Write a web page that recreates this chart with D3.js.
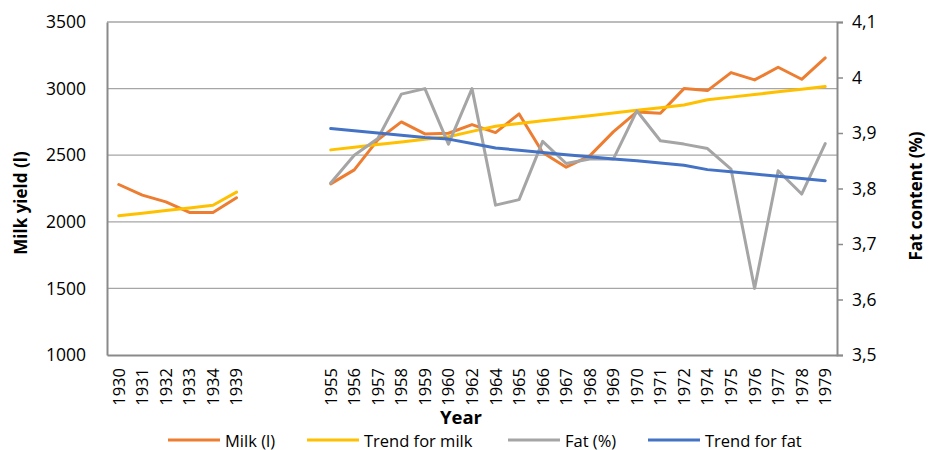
<!DOCTYPE html>
<html>
<head>
<meta charset="utf-8">
<script src="https://cdn.jsdelivr.net/npm/d3@7"></script>
<style>
  html, body { margin: 0; padding: 0; background: #fff; }
  svg { display: block; font-family: "Open Sans", "Liberation Sans", sans-serif; }
</style>
</head>
<body>
<svg id="chart" width="929" height="450"></svg>
<script>
// ---- data ----
const categories = ["1930","1931","1932","1933","1934","1939"," ","  ","   ",
  "1955","1956","1957","1958","1959","1960","1962","1964","1965","1966","1967","1968",
  "1969","1970","1971","1972","1974","1975","1976","1977","1978","1979"];
const milk = [2280,2200,2150,2070,2070,2180,null,null,null,
  2285,2390,2615,2750,2660,2665,2730,2670,2810,2520,2410,2495,
  2675,2825,2815,3000,2985,3120,3065,3160,3070,3230];
const milkTrend = [2045,2065,2085,2104,2124,2223,null,null,null,
  2540,2560,2580,2599,2619,2639,2679,2718,2738,2758,2778,2797,
  2817,2837,2857,2877,2916,2936,2956,2976,2995,3015];
const fat = [null,null,null,null,null,null,null,null,null,
  3.81,3.86,3.89,3.97,3.98,3.88,3.98,3.77,3.78,3.885,3.845,3.853,
  3.853,3.94,3.886,3.88,3.872,3.835,3.62,3.832,3.79,3.881];
const fatTrend = [null,null,null,null,null,null,null,null,null,
  3.908,3.904,3.900,3.896,3.892,3.889,3.881,3.873,3.869,3.865,3.861,3.857,
  3.853,3.850,3.846,3.842,3.834,3.830,3.826,3.822,3.818,3.814];
const leftTicks = [1000,1500,2000,2500,3000,3500];
const rightTicks = [3.5,3.6,3.7,3.8,3.9,4.0,4.1];
const seriesNames = ["Milk (l)","Trend for milk","Fat (%)","Trend for fat"];
const colors = ["#ED7D31","#FFC000","#A5A5A5","#4472C4"];

// ---- layout ----
const L = 107, R = 837, T = 22, B = 355;
const svg = d3.select("#chart");

const x = d3.scaleBand().domain(categories).range([L, R]).padding(0);
const cx = c => x(c) + x.bandwidth() / 2;
const yL = d3.scaleLinear().domain([1000, 3500]).range([B, T]);
const yR = d3.scaleLinear().domain([3.5, 4.1]).range([B, T]);

// gridlines
svg.append("g").selectAll("line").data(leftTicks.filter(d => d > 1000)).join("line")
  .attr("x1", L).attr("x2", R)
  .attr("y1", d => yL(d)).attr("y2", d => yL(d))
  .attr("stroke", "#a6a6a6").attr("stroke-width", 1.3);

// left axis
const gL = svg.append("g").attr("transform", `translate(${L},0)`)
  .call(d3.axisLeft(yL).tickValues(leftTicks).tickSize(0).tickPadding(21).tickFormat(d3.format("d")));
gL.select(".domain").attr("stroke", "#8a8a8a").attr("stroke-width", 2);
gL.selectAll("text").attr("font-size", 17.5).attr("fill", "#000").attr("font-family", "Open Sans");

// right axis
const gR = svg.append("g").attr("transform", `translate(${R},0)`)
  .call(d3.axisRight(yR).tickValues(rightTicks).tickSize(6).tickPadding(9)
    .tickFormat(d => d3.format(".1~f")(d).replace(".", ",")));
gR.select(".domain").attr("stroke", "#8a8a8a").attr("stroke-width", 2);
gR.selectAll(".tick line").attr("stroke", "#8a8a8a").attr("stroke-width", 1.5);
gR.selectAll("text").attr("font-size", 17.5).attr("fill", "#000").attr("font-family", "Open Sans");

// bottom axis
const gB = svg.append("g").attr("transform", `translate(0,${B})`)
  .call(d3.axisBottom(x).tickSize(0));
gB.select(".domain").attr("stroke", "#8a8a8a").attr("stroke-width", 2);
gB.selectAll("text")
  .attr("font-size", 16.5).attr("fill", "#000").attr("font-family", "Open Sans")
  .attr("transform", "rotate(-90)")
  .attr("text-anchor", "end")
  .attr("x", -13).attr("y", 0).attr("dy", "0.36em");

// lines
const dataSets = [
  {vals: milk, y: yL},
  {vals: milkTrend, y: yL},
  {vals: fat, y: yR},
  {vals: fatTrend, y: yR}
];
dataSets.forEach((s, i) => {
  const line = d3.line()
    .defined(d => d.v != null)
    .x(d => cx(d.c))
    .y(d => s.y(d.v));
  svg.append("path")
    .datum(categories.map((c, j) => ({c: c, v: s.vals[j]})))
    .attr("fill", "none")
    .attr("stroke", colors[i])
    .attr("stroke-width", 3)
    .attr("stroke-linejoin", "round")
    .attr("stroke-linecap", "round")
    .attr("d", line);
});

// axis titles
svg.append("text").attr("transform", "translate(27,203) rotate(-90)")
  .attr("text-anchor", "middle").attr("font-weight", "bold").attr("font-size", 17)
  .text("Milk yield (l)");
svg.append("text").attr("transform", "translate(922,196) rotate(-90)")
  .attr("text-anchor", "middle").attr("font-weight", "bold").attr("font-size", 17)
  .text("Fat content (%)");
svg.append("text").attr("x", 461).attr("y", 424)
  .attr("text-anchor", "middle").attr("font-weight", "bold").attr("font-size", 18.5)
  .text("Year");

// legend
const legendX = [168, 307, 508, 648];
const lg = svg.append("g");
seriesNames.forEach((n, i) => {
  lg.append("line").attr("x1", legendX[i]).attr("x2", legendX[i] + 52)
    .attr("y1", 440).attr("y2", 440)
    .attr("stroke", colors[i]).attr("stroke-width", 3);
  lg.append("text").attr("x", legendX[i] + 57).attr("y", 446.5)
    .attr("font-size", 16.5).text(n);
});
</script>
</body>
</html>
